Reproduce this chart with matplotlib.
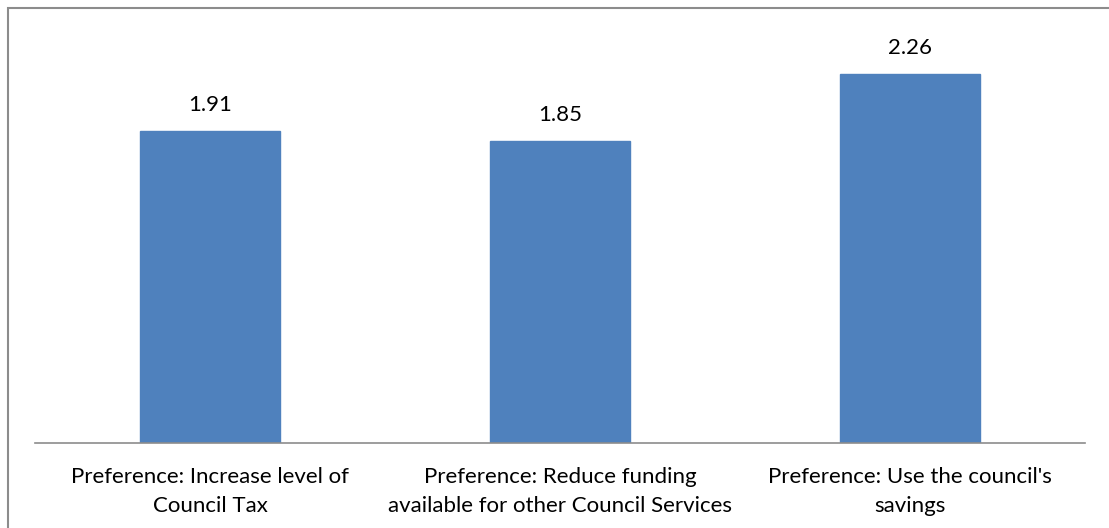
import matplotlib
matplotlib.use("Agg")
import matplotlib.pyplot as plt
from matplotlib.patches import Rectangle

categories = ["Preference: Increase level of\nCouncil Tax",
              "Preference: Reduce funding\navailable for other Council Services",
              "Preference: Use the council's\nsavings"]
values = [1.91, 1.85, 2.26]
value_labels = ["1.91", "1.85", "2.26"]

W, H = 1109, 528
fig = plt.figure(figsize=(W / 100, H / 100), dpi=100)
plt.rcParams['font.family'] = ['Lato', 'DejaVu Sans']

# outer chart border (left and top visible)
fig.patches.append(Rectangle((8 / W, -0.1), 1.2, (H - 8) / H + 0.1, transform=fig.transFigure,
                             fill=False, edgecolor="#8c8c8c", linewidth=1.5))

left, right = 35, 1085
bottom_px, top_px = 443, 35
ax = fig.add_axes([left / W, 1 - bottom_px / H, (right - left) / W, (bottom_px - top_px) / H])
x = range(len(categories))
ax.bar(x, values, width=0.4, color="#4F81BD", edgecolor="#4F81BD")
ax.set_xlim(-0.5, len(categories) - 0.5)
ax.set_ylim(0, 2.5)
for i, (v, lab) in enumerate(zip(values, value_labels)):
    ax.annotate(lab, (i, v), xytext=(0, 19), textcoords="offset points",
                ha="center", va="center", fontsize=16, color="#000000")
for s in ["top", "right", "left"]:
    ax.spines[s].set_visible(False)
ax.spines["bottom"].set_color("#8c8c8c")
ax.spines["bottom"].set_linewidth(1.2)
ax.set_yticks([])
ax.set_xticks(list(x))
ax.set_xticklabels(categories, fontsize=16, linespacing=1.6)
ax.tick_params(axis="x", length=0, pad=17, colors="#000000")
fig.savefig("out.png", dpi=100)
